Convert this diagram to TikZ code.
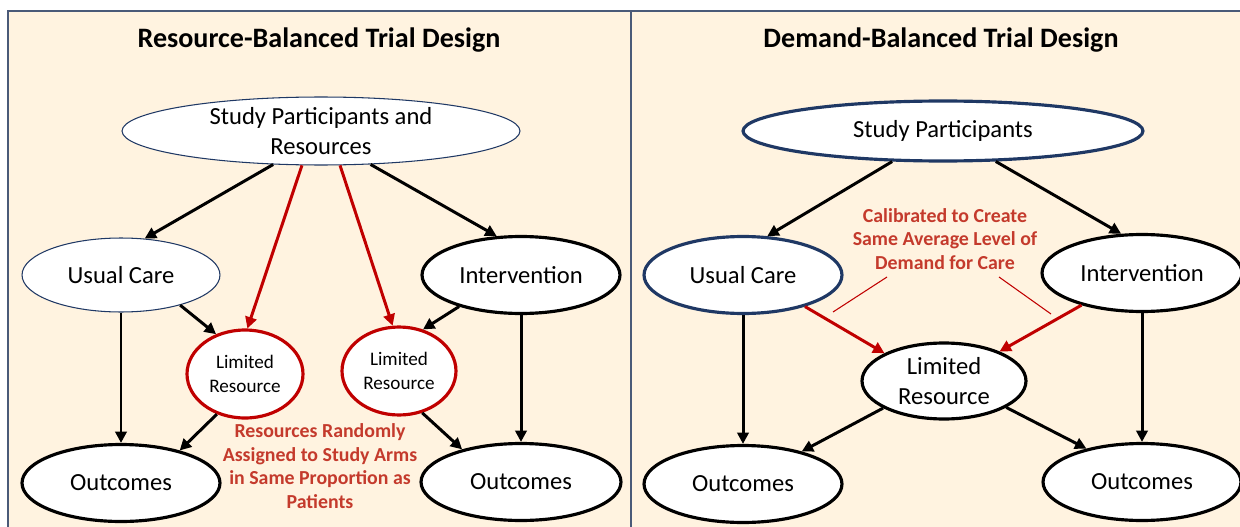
\documentclass[tikz,border=0pt]{standalone}
\usepackage{fontspec}
\setmainfont{Carlito}
\usetikzlibrary{arrows.meta,shapes.geometric}

\definecolor{cream}{RGB}{255,243,224}
\definecolor{frameblue}{RGB}{74,90,120}
\definecolor{navy}{RGB}{31,56,100}
\definecolor{arrowred}{RGB}{192,0,0}
\definecolor{notered}{RGB}{196,58,44}

\begin{document}
\begin{tikzpicture}[x=0.02cm,y=-0.02cm,>={Triangle[length=6.5pt,width=6.5pt]},
  oval/.style={ellipse,draw,fill=white,inner sep=0pt,align=center,
    font=\fontsize{14}{17}\selectfont,minimum width=3.96cm,minimum height=1.54cm},
  fine/.style={draw=navy,line width=0.6pt},
  heavy/.style={line width=1.8pt},
  link/.style={->,line width=1.7pt},
  redlink/.style={link,draw=arrowred},
  note/.style={text=notered,font=\fontsize{11.3}{13.5}\selectfont\bfseries,align=center},
  head/.style={font=\fontsize{16}{19}\selectfont\bfseries}]
  \useasboundingbox (0,0) rectangle (1240,527);
  \clip (0,0) rectangle (1240,527);
  % two panels
  \draw[frameblue,fill=cream,line width=1.1pt] (8,11) rectangle (1260,545);
  \draw[frameblue,line width=1.1pt] (631,11) -- (631,545);

  % (a) resource-balanced
  \node[head] (lhead) at (319,40) {Resource-Balanced Trial Design};
  \node[oval,fine,minimum width=7.96cm,minimum height=1.36cm] (lsp) at (321,131) {Study Participants and\\Resources};
  \node[oval,fine,minimum height=1.48cm] (luc) at (121,275) {Usual Care};
  \node[oval,heavy] (lint) at (521,275) {Intervention};
  \node[oval,heavy,draw=arrowred,minimum width=2.32cm,minimum height=1.76cm,
    font=\fontsize{10.9}{13.7}\selectfont] (llr1) at (245,374) {Limited\\Resource};
  \node[oval,heavy,draw=arrowred,minimum width=2.28cm,minimum height=1.76cm,
    font=\fontsize{10.9}{13.7}\selectfont] (llr2) at (399,371) {Limited\\Resource};
  \node[oval,heavy] (lout1) at (121,483) {Outcomes};
  \node[oval,heavy,minimum width=4cm] (lout2) at (521,482) {Outcomes};
  \node[note] (lnote) at (320,466) {Resources Randomly\\Assigned to Study Arms\\in Same Proportion as\\Patients};
  \draw[link] (lsp.215) -- (luc.57);
  \draw[link] (lsp.326) -- (lint.122);
  \draw[redlink] (lsp.241) -- (llr1.87);
  \draw[redlink] (lsp.299) -- (llr2.98);
  \draw[link] (luc.333) -- (llr1.126);
  \draw[link] (lint.207) -- (llr2.60);
  \draw[link] (luc) -- (lout1);
  \draw[link] (lint) -- (lout2);
  \draw[link] (llr1.235) -- (lout1.29);
  \draw[link] (llr2.299) -- (lout2.151);

  % (b) demand-balanced
  \node[head] (rhead) at (941,40) {Demand-Balanced Trial Design};
  \node[oval,heavy,draw=navy,minimum width=8cm,minimum height=1.2cm] (rsp) at (943,131) {Study Participants};
  \node[oval,heavy,draw=navy] (ruc) at (743,275) {Usual Care};
  \node[oval,heavy,minimum width=4cm] (rint) at (1142,273) {Intervention};
  \node[oval,heavy,minimum width=3.28cm,minimum height=1.52cm] (rlr) at (944,381) {Limited\\Resource};
  \node[oval,heavy] (rout1) at (743,484) {Outcomes};
  \node[oval,heavy] (rout2) at (1142,482) {Outcomes};
  \node[note] (rnote) at (945,239) {Calibrated to Create\\Same Average Level of\\Demand for Care};
  \coordinate (ltip) at (887,277);
  \coordinate (lfoot) at (833,312);
  \coordinate (rtip) at (999,277);
  \coordinate (rfoot) at (1051,314);
  \draw[arrowred,line width=0.6pt] (ltip) -- (lfoot);
  \draw[arrowred,line width=0.6pt] (rtip) -- (rfoot);
  \draw[link] (rsp.211) -- (ruc.58);
  \draw[link] (rsp.330) -- (rint.118);
  \draw[redlink] (ruc.333) -- (rlr.155);
  \draw[redlink] (rint.208) -- (rlr.28);
  \draw[link] (ruc) -- (rout1);
  \draw[link] (rint) -- (rout2);
  \draw[link] (rlr.204) -- (rout1.29);
  \draw[link] (rlr.337) -- (rout2.149);
\end{tikzpicture}
\end{document}
